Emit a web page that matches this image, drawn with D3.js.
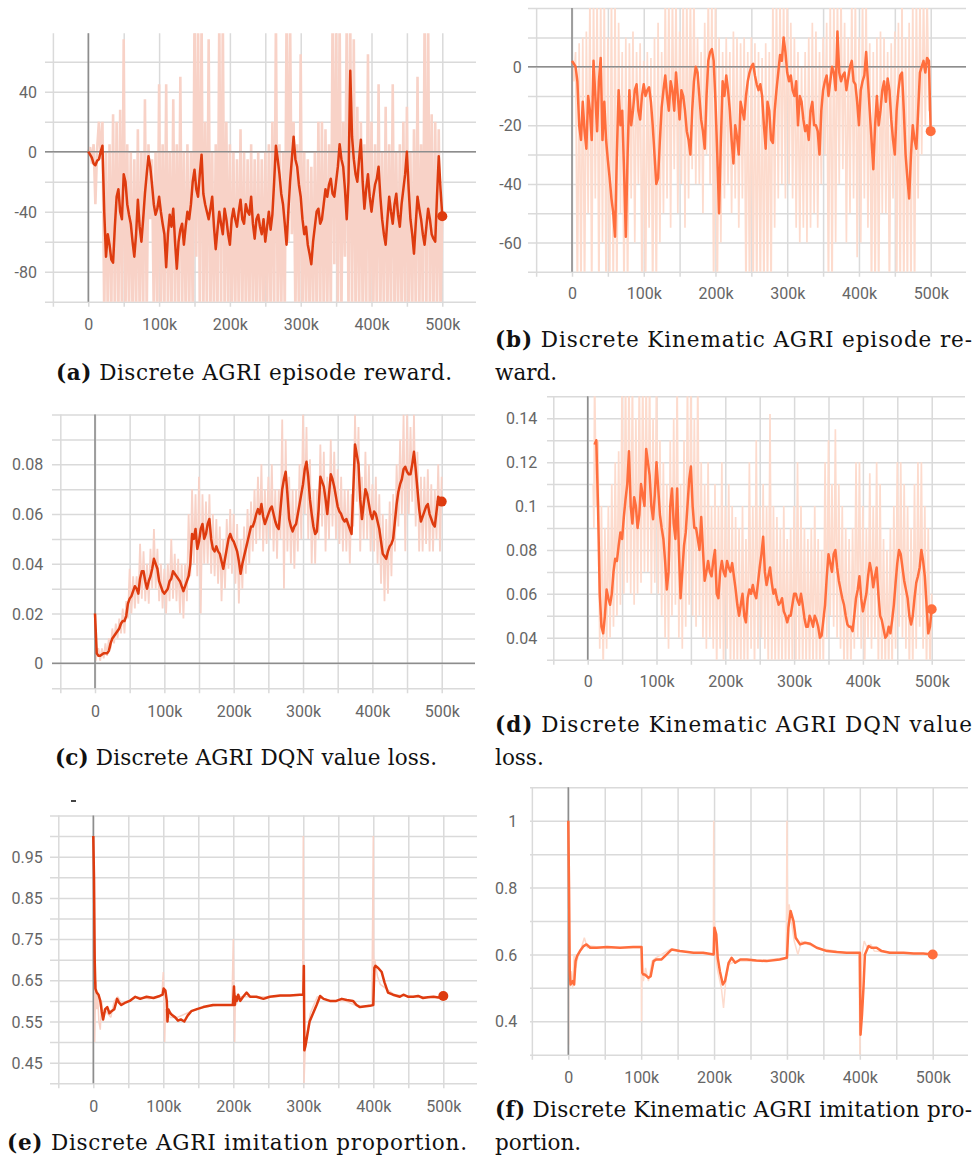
<!DOCTYPE html>
<html><head><meta charset="utf-8">
<script src="https://cdn.jsdelivr.net/npm/d3@7"></script>
<style>
html,body{margin:0;padding:0;background:#fff;}
svg{display:block;}
</style></head><body>
<svg id="chart" width="979" height="1167"></svg>
<script>
// ---------- shared tick values (x in thousands of steps) ----------
const xGridTicks = [-50,0,50,100,150,200,250,300,350,400,450,500];
const xLabelTicks = [0,100,200,300,400,500];

// ---------- (a) Discrete AGRI episode reward ----------
const aGridY = [-100,-80,-60,-40,-20,0,20,40,60];
const aYLabels = [40,0,-40,-80];
const aSmoothStart = 0;
const aSmooth = [0,-4,-9,-5,4,-70,-62,-74,-30,-40,-15,-35,-48,-70,-32,-60,-28,-3,-22,-42,
-30,-48,-77,-42,-38,-78,-52,-62,-40,-35,-12,-30,-2,-35,-45,-30,-65,-40,-55,-45,
-62,-38,-50,-32,-48,-40,-30,-58,-42,-55,-60,-40,-42,4,-15,-35,-62,-20,10,-10,
-30,-55,-62,-75,-50,-38,-45,-25,-22,-28,-20,5,-10,-45,54,-5,-20,8,-38,-15,
-40,-22,-10,-45,-62,-30,-48,-28,-50,-25,0,-45,-68,-30,-45,-62,-38,-55,-60,-3,-43];
const aSmoothMidStart = 2.5;
const aSmoothMid = [-2,-8,-6,0,-40,-55,-72,-50,-25,-45,-20,-42,-60,-55,-50,-45,-15,-10,-35,-38,
-40,-55,-55,-50,-60,-60,-48,-50,-45,-20,-25,-15,-28,-40,-38,-50,-52,-48,-38,-55,
-45,-45,-40,-45,-35,-42,-48,-45,-50,-45,-50,-52,-20,-5,-28,-48,-40,-5,-5,-22,
-45,-50,-68,-60,-40,-48,-35,-30,-18,-30,-10,-5,-25,-20,10,-15,-5,-20,-25,-30,
-30,-18,-30,-55,-45,-40,-35,-42,-35,-15,-25,-55,-48,-38,-55,-50,-45,-58,-30,-25];
const aRawStartX = [0,2.5,5,7.5,10,12.5,15,17.5];
const aRawStartY = [0,3,-8,5,-35,2,20,-5];
const aRawHiStart = 20;
const aRawHi = [20,0,5,25,20,28,75,5,0,-5,
15,0,35,5,-5,0,45,5,45,0,
35,5,50,0,5,0,90,90,90,20,
75,0,5,90,90,20,5,0,-5,15,
0,-5,5,-5,0,-5,0,5,20,90,
5,0,90,90,20,5,65,0,-5,-10,
0,20,20,15,5,90,90,90,20,90,
90,75,30,20,5,65,20,5,45,0,
30,5,45,0,5,20,30,0,15,50,
5,90,90,25,20,15,-40];
const aRawLoStart = 22.5;
const aRawLo = [-110,-110,-110,-110,-110,-110,-110,-110,-110,-110,
-110,-110,-110,-45,-110,-110,-110,-110,-110,-110,
-110,-110,-110,-110,-110,-110,-70,-110,-110,-110,
-110,-110,-110,-110,-110,-110,-110,-110,-110,-110,
-110,-110,-110,-110,-110,-110,-110,-110,-110,-110,
-110,-110,-60,-55,-110,-110,-110,-110,-110,-110,
-110,-110,-110,-110,-110,-75,-110,-110,-70,-110,
-110,-110,-110,-110,-110,-110,-110,-110,-110,-110,
-110,-110,-110,-110,-110,-110,-110,-110,-110,-110,
-110,-110,-110,-110,-110,-110];

// ---------- (b) Discrete Kinematic AGRI episode reward ----------
const bGridY = [-70,-60,-50,-40,-30,-20,-10,0,10,20];
const bYLabels = [0,-20,-40,-60];
const bSmoothStart = 0;
const bSmooth = [2,0,-20,-12,-28,-15,2,-22,3,-12,
-32,-45,-58,-8,-15,-58,-8,-15,-6,-18,
-6,-8,-12,-30,-38,-14,-3,-15,-8,-2,
-18,-10,-22,-30,-5,-2,-18,-28,2,6,
-12,-50,-5,-3,-15,-33,-24,-12,-18,-5,
0,-3,-8,-10,-28,-15,-26,-8,4,10,
-2,-3,-10,-20,-12,-22,-25,-12,-20,-30,
-8,-3,-5,-2,12,-5,-2,-4,2,-6,
-20,-5,5,-15,-35,-10,-15,-5,-4,-18,
-30,-8,-2,-30,-45,-20,-28,-2,2,3,
-22];
const bSmoothMidStart = 2.5;
const bSmoothMid = [1,-5,-25,-22,-10,-25,-10,-5,-25,-25,-38,-50,-30,-20,-35,-30,-20,-8,-15,-10,
-10,-7,-20,-40,-25,-8,-10,-5,-15,-10,-8,-15,-25,-15,0,-10,-22,-10,5,2,
-30,-25,-10,-8,-25,-20,-30,-15,-10,-2,1,-6,-6,-20,-12,-25,-15,-2,2,5,
-5,-8,-5,-10,-18,-20,-15,-20,-22,-15,-5,-10,0,-8,-2,-3,-8,0,-5,-12,
-8,-3,-5,-25,-20,-20,-8,-12,-8,-25,-15,-3,-15,-38,-30,-25,-15,0,-2,2];
const bRawStartX = [0,2.5];
const bRawStartY = [2,-5];
const bRawHiStart = 5;
const bRawHi = [5,8,10,12,25,25,25,25,25,10,
25,25,15,5,10,8,12,5,8,2,
5,3,10,15,5,25,25,25,25,12,
25,25,25,25,10,5,15,25,25,25,
10,5,10,5,12,10,8,10,5,10,
8,5,3,8,5,25,25,25,25,25,
15,10,5,0,5,10,15,12,5,10,
15,25,25,25,25,15,10,25,25,10,
25,25,8,5,10,12,10,5,8,12,
15,25,10,15,25,25,25,25,25,-15];
const bRawLoStart = 7.5;
const bRawLo = [-80,-80,-80,-50,-80,-45,-80,-60,-80,-80,
-80,-80,-50,-80,-80,-45,-60,-40,-80,-80,
-55,-80,-80,-60,-50,-45,-55,-35,-50,-40,
-55,-45,-35,-40,-40,-50,-30,-40,-80,-80,
-60,-45,-40,-50,-45,-55,-45,-80,-80,-80,
-80,-80,-80,-80,-80,-55,-45,-40,-45,-40,
-45,-55,-60,-55,-60,-55,-50,-55,-40,-30,
-80,-80,-60,-40,-35,-60,-50,-45,-65,-60,
-45,-55,-80,-80,-80,-50,-50,-80,-45,-80,
-80,-80,-80,-80,-80,-45,-30,-20,-15];

// ---------- (c) Discrete AGRI DQN value loss ----------
const cGridY = [-0.01,0,0.01,0.02,0.03,0.04,0.05,0.06,0.07,0.08,0.09,0.1];
const cYLabels = [0.08,0.06,0.04,0.02,0];
const cSmoothStart = 0;
const cSmooth = [0.02,0.003,0.0035,0.004,0.005,0.01,0.012,0.014,0.017,0.019,
0.026,0.029,0.03,0.034,0.037,0.03,0.035,0.042,0.038,0.031,
0.028,0.03,0.034,0.036,0.034,0.031,0.031,0.035,0.052,0.054,
0.049,0.056,0.052,0.058,0.046,0.047,0.044,0.038,0.046,0.052,
0.049,0.045,0.036,0.043,0.049,0.055,0.057,0.062,0.064,0.056,
0.06,0.063,0.057,0.054,0.07,0.077,0.058,0.053,0.056,0.064,
0.072,0.081,0.066,0.055,0.053,0.075,0.071,0.06,0.076,0.071,
0.063,0.06,0.057,0.056,0.052,0.088,0.08,0.058,0.07,0.064,
0.058,0.06,0.054,0.044,0.042,0.047,0.05,0.064,0.072,0.078,
0.077,0.076,0.085,0.07,0.057,0.061,0.064,0.058,0.055,0.067,
0.065];
const cSmoothMidStart = 2.5;
const cSmoothMid = [0.004,0.003,0.004,0.004,0.008,0.011,0.013,0.016,0.017,0.024,0.027,0.031,0.028,0.037,0.033,0.033,0.038,0.04,0.033,0.029,
0.029,0.033,0.037,0.035,0.033,0.029,0.033,0.04,0.05,0.046,0.054,0.05,0.056,0.05,0.045,0.045,0.041,0.042,0.05,0.05,
0.047,0.041,0.04,0.046,0.052,0.055,0.06,0.06,0.059,0.058,0.062,0.06,0.055,0.062,0.074,0.068,0.055,0.055,0.06,0.068,
0.078,0.075,0.06,0.052,0.062,0.073,0.066,0.068,0.074,0.067,0.061,0.058,0.058,0.054,0.07,0.084,0.066,0.064,0.068,0.06,
0.061,0.057,0.049,0.043,0.045,0.048,0.057,0.069,0.074,0.079,0.076,0.08,0.078,0.062,0.059,0.063,0.06,0.056,0.061,0.066];
const cRawStartX = [0,1,2.5];
const cRawStartY = [0.02,0.001,0.005];
const cRawHiStart = 5;
const cRawHi = [0.006,0.006,0.008,0.01,0.014,0.016,0.018,0.022,0.025,0.038,
0.035,0.035,0.048,0.045,0.04,0.046,0.054,0.046,0.04,0.038,
0.04,0.05,0.044,0.042,0.04,0.04,0.06,0.07,0.068,0.075,
0.068,0.065,0.068,0.06,0.058,0.055,0.05,0.058,0.062,0.06,
0.056,0.05,0.055,0.062,0.065,0.07,0.075,0.08,0.07,0.075,
0.08,0.07,0.07,0.098,0.09,0.075,0.07,0.07,0.08,0.1,
0.095,0.082,0.07,0.07,0.088,0.085,0.075,0.09,0.085,0.078,
0.075,0.07,0.07,0.068,0.1,0.095,0.075,0.085,0.08,0.072,
0.075,0.068,0.06,0.058,0.065,0.068,0.08,0.09,0.1,0.1,
0.095,0.1,0.085,0.075,0.075,0.078,0.072,0.07,0.08,0.075];
const cRawLoStart = 7.5;
const cRawLo = [0.001,0.002,0.003,0.006,0.008,0.01,0.012,0.012,0.018,0.02,
0.022,0.024,0.026,0.025,0.024,0.03,0.03,0.025,0.022,0.02,
0.025,0.026,0.025,0.02,0.018,0.025,0.035,0.04,0.035,0.02,
0.04,0.04,0.036,0.035,0.032,0.025,0.03,0.038,0.036,0.032,
0.024,0.03,0.036,0.04,0.045,0.048,0.05,0.045,0.048,0.05,
0.045,0.042,0.05,0.03,0.045,0.04,0.038,0.045,0.05,0.06,
0.05,0.04,0.04,0.05,0.055,0.045,0.05,0.055,0.05,0.048,
0.045,0.045,0.04,0.055,0.065,0.045,0.05,0.05,0.045,0.045,
0.04,0.032,0.025,0.028,0.035,0.045,0.055,0.06,0.045,0.06,
0.065,0.055,0.045,0.045,0.048,0.045,0.045,0.05,0.045];

// ---------- (d) Discrete Kinematic AGRI DQN value loss ----------
const dGridY = [0.03,0.04,0.05,0.06,0.07,0.08,0.09,0.1,0.11,0.12,0.13,0.14,0.15];
const dYLabels = [0.14,0.12,0.1,0.08,0.06,0.04];
const dSmoothStart = 10;
const dSmooth = [0.128,0.1,0.045,0.05,0.058,0.06,0.076,0.082,0.085,0.103,
0.125,0.092,0.1,0.096,0.105,0.126,0.114,0.094,0.12,0.096,
0.085,0.062,0.1,0.092,0.108,0.058,0.082,0.1,0.118,0.09,
0.085,0.095,0.066,0.075,0.068,0.08,0.058,0.075,0.068,0.072,
0.074,0.062,0.05,0.06,0.047,0.062,0.064,0.058,0.072,0.086,
0.064,0.072,0.06,0.058,0.056,0.052,0.047,0.05,0.06,0.057,
0.06,0.049,0.045,0.048,0.05,0.045,0.041,0.055,0.078,0.07,
0.08,0.066,0.058,0.05,0.045,0.043,0.058,0.068,0.052,0.06,
0.074,0.063,0.072,0.05,0.044,0.041,0.042,0.055,0.074,0.078,
0.066,0.058,0.046,0.058,0.068,0.08,0.068,0.042,0.053];
const dSmoothMidStart = 12.5;
const dSmoothMid = [0.13,0.06,0.042,0.062,0.055,0.07,0.075,0.088,0.095,0.11,
0.1,0.104,0.09,0.11,0.1,0.12,0.1,0.105,0.108,0.09,
0.075,0.07,0.108,0.085,0.08,0.07,0.088,0.112,0.1,0.09,
0.08,0.08,0.07,0.07,0.075,0.06,0.07,0.07,0.075,0.07,
0.068,0.055,0.055,0.05,0.058,0.06,0.06,0.065,0.078,0.07,
0.068,0.065,0.062,0.055,0.058,0.05,0.05,0.055,0.06,0.055,
0.055,0.045,0.05,0.045,0.048,0.04,0.048,0.068,0.074,0.078,
0.072,0.062,0.055,0.046,0.045,0.05,0.062,0.058,0.056,0.068,
0.07,0.068,0.06,0.048,0.04,0.045,0.048,0.065,0.08,0.072,
0.062,0.05,0.05,0.065,0.072,0.075,0.055,0.045];
const dRawStartX = [8,9];
const dRawStartY = [0.11,0.09];
const dRawHiStart = 10;
const dRawHi = [0.16,0.13,0.1,0.09,0.1,0.11,0.12,0.125,0.16,0.16,
0.16,0.16,0.14,0.16,0.16,0.16,0.16,0.14,0.16,0.13,
0.12,0.11,0.13,0.14,0.16,0.11,0.13,0.16,0.16,0.14,
0.16,0.12,0.11,0.12,0.1,0.11,0.1,0.12,0.1,0.11,
0.1,0.095,0.09,0.1,0.085,0.12,0.1,0.13,0.1,0.11,
0.1,0.142,0.1,0.095,0.09,0.1,0.085,0.09,0.1,0.12,
0.1,0.09,0.085,0.09,0.1,0.085,0.08,0.12,0.13,0.11,
0.135,0.11,0.1,0.09,0.085,0.09,0.12,0.12,0.1,0.09,
0.115,0.1,0.12,0.11,0.085,0.08,0.09,0.1,0.12,0.12,
0.11,0.1,0.09,0.11,0.12,0.12,0.1,0.09,0.06];
const dRawLoStart = 12.5;
const dRawLo = [0.1,0.035,0.025,0.035,0.04,0.045,0.05,0.055,0.06,0.065,
0.06,0.055,0.06,0.065,0.07,0.07,0.06,0.065,0.06,0.05,
0.04,0.035,0.05,0.055,0.04,0.035,0.045,0.055,0.05,0.045,
0.05,0.04,0.035,0.04,0.035,0.025,0.035,0.025,0.035,0.025,
0.025,0.025,0.025,0.025,0.025,0.035,0.025,0.035,0.04,0.035,
0.025,0.025,0.025,0.025,0.025,0.025,0.025,0.025,0.025,0.025,
0.025,0.025,0.025,0.025,0.025,0.025,0.025,0.04,0.05,0.045,
0.04,0.035,0.025,0.025,0.025,0.035,0.04,0.035,0.025,0.04,
0.035,0.04,0.025,0.025,0.025,0.025,0.025,0.035,0.045,0.04,
0.035,0.025,0.025,0.035,0.045,0.035,0.025,0.025];

// ---------- (e) Discrete AGRI imitation proportion ----------
const eGridY = [0.4,0.45,0.5,0.55,0.6,0.65,0.7,0.75,0.8,0.85,0.9,0.95,1,1.05];
const eYLabels = [0.95,0.85,0.75,0.65,0.55,0.45];
const eX = [0,1,2,3,5,7.5,10,12,14,17,20,23,26,30,34,37,40,45,52,60,67,76,86,95,99,100.5,103,105,106,107,110,113,117,121,125,130,135,140,148,157,171,186,199.5,201,202,203.5,205,207,210,214,219,224,233,243,252,267,281,295,300,300.8,301.5,303,305,309,314,319,324,329,338,347,355,362,371,376,381,395,400,401.5,403,407,412,416,421,428,438,443,450,457,464,471,478,486,493,500];
const eY = [1.0,0.9,0.7,0.63,0.62,0.615,0.6,0.575,0.555,0.58,0.585,0.57,0.575,0.58,0.605,0.595,0.59,0.595,0.6,0.61,0.605,0.61,0.607,0.612,0.615,0.63,0.625,0.6,0.55,0.58,0.57,0.565,0.56,0.552,0.555,0.55,0.565,0.575,0.58,0.585,0.59,0.59,0.59,0.635,0.59,0.61,0.6,0.615,0.6,0.61,0.62,0.61,0.61,0.605,0.61,0.613,0.613,0.615,0.615,0.685,0.48,0.49,0.51,0.55,0.57,0.59,0.612,0.605,0.6,0.6,0.605,0.602,0.6,0.59,0.585,0.588,0.59,0.68,0.685,0.68,0.67,0.645,0.62,0.615,0.61,0.615,0.61,0.61,0.612,0.607,0.609,0.61,0.608,0.612];
const eRawX = [0,0.5,1,2,3,4,5,6,8,10,12,14,16,20,25,30,35,40,50,60,80,98,100,101,102,103,104,106,110,120,140,160,180,198,200,201,202,203,204,206,210,230,260,290,299,300,300.5,301,302,303,305,310,320,340,360,380,398,400,400.5,401,402,404,406,410,430,460,500];
const eRawY = [1,0.9,0.7,0.5,0.6,0.65,0.58,0.62,0.55,0.53,0.6,0.56,0.58,0.57,0.56,0.6,0.61,0.595,0.6,0.61,0.605,0.615,0.67,0.6,0.5,0.58,0.55,0.57,0.56,0.56,0.575,0.585,0.59,0.59,0.75,0.6,0.5,0.62,0.59,0.6,0.61,0.61,0.61,0.615,0.615,1.0,0.7,0.4,0.45,0.5,0.52,0.57,0.61,0.6,0.6,0.585,0.59,1.0,0.72,0.65,0.7,0.68,0.66,0.64,0.615,0.61,0.61];

// ---------- (f) Discrete Kinematic AGRI imitation proportion ----------
const fGridY = [0.3,0.4,0.5,0.6,0.7,0.8,0.9,1,1.1];
const fYLabels = [1,0.8,0.6,0.4];
const fX = [0,1,2,3,6,8,10,12,16,21,25,30,39,53,71,89,100.5,101.5,103,105,110,113,117,121,128,135,142,153,172,185,199.5,200.5,203,205,208,212,215,220,224,229,236,245,258,272,290,300,302,305,309,312,318,325,332,341,355,368,382,400,401,403,405,407,412,416,423,430,441,460,474,487,500];
const fY = [1.0,0.8,0.55,0.51,0.52,0.51,0.58,0.595,0.61,0.625,0.63,0.62,0.62,0.622,0.62,0.622,0.622,0.545,0.54,0.54,0.53,0.535,0.58,0.585,0.585,0.6,0.615,0.61,0.605,0.605,0.6,0.68,0.66,0.59,0.55,0.51,0.52,0.575,0.59,0.575,0.585,0.585,0.582,0.58,0.585,0.59,0.68,0.73,0.7,0.65,0.63,0.635,0.632,0.62,0.61,0.607,0.605,0.605,0.36,0.42,0.5,0.6,0.625,0.62,0.62,0.61,0.605,0.605,0.603,0.603,0.6];
const fRawX = [0,0.5,1,2,4,6,8,10,14,18,22,26,30,50,80,99,100,100.5,101,103,106,110,115,120,140,170,199,199.5,200,200.5,202,205,210,213,216,220,230,260,299,300,301,303,306,310,315,320,340,380,399,400,401,403,406,410,415,420,450,500];
const fRawY = [1.0,0.33,0.7,0.5,0.55,0.5,0.6,0.56,0.6,0.62,0.65,0.62,0.625,0.62,0.62,0.62,0.62,0.4,0.55,0.52,0.56,0.52,0.58,0.59,0.615,0.605,0.6,1.0,0.66,0.7,0.6,0.55,0.5,0.44,0.52,0.57,0.58,0.58,0.59,1.0,0.7,0.75,0.7,0.64,0.6,0.64,0.62,0.605,0.6,0.3,0.42,0.6,0.64,0.62,0.63,0.61,0.605,0.6];

// ---------- captions ----------
const captionLabels = ['(a)','(b)','','(c)','(d)','','(e)','(f)',''];
const captionTexts = [' Discrete AGRI episode reward.',' Discrete Kinematic AGRI episode re-','ward.',
 ' Discrete AGRI DQN value loss.',' Discrete Kinematic AGRI DQN value','loss.',
 ' Discrete AGRI imitation proportion.',' Discrete Kinematic AGRI imitation pro-','portion.'];

// ---------- helpers ----------
const stepSeries = (start, step, vals) => vals.map((v,i)=>({x:start+i*step, y:v}));
const pairSeries = (xs, ys) => xs.map((x,i)=>({x, y:ys[i]}));
const mergeRaw = (...parts) => parts.flat().sort((a,b)=>a.x-b.x);

const DARK = {line:'#de3b0f', raw:'#f8d2c7'};
const LIGHT = {line:'#ff6e3d', raw:'#fddbcd'};

const svg = d3.select('#chart');

// layout (positions / styles only)
const layouts = [
 {x0:88.3,x500:442.3,left:45,right:476,yr:[[0,151.7],[40,91.7]],top:79,bot:-100,grid:aGridY,labels:aYLabels,labelX:37,xLabelY:324,zeroH:true,col:DARK,rawW:2.6,
  smooth:mergeRaw(stepSeries(aSmoothStart,5,aSmooth),stepSeries(aSmoothMidStart,5,aSmoothMid)),
  raw:mergeRaw(pairSeries(aRawStartX,aRawStartY),stepSeries(aRawHiStart,5,aRawHi),stepSeries(aRawLoStart,5,aRawLo))},
 {x0:572,x500:930.7,left:528,right:966,yr:[[0,66.7],[-20,125.3]],top:20,bot:-70,grid:bGridY,labels:bYLabels,labelX:521.7,xLabelY:293.3,zeroH:true,col:LIGHT,rawW:1.7,
  smooth:mergeRaw(stepSeries(bSmoothStart,5,bSmooth),stepSeries(bSmoothMidStart,5,bSmoothMid)),
  raw:mergeRaw(pairSeries(bRawStartX,bRawStartY),stepSeries(bRawHiStart,5,bRawHi),stepSeries(bRawLoStart,5,bRawLo))},
 {x0:95,x500:441.7,left:52,right:475,yr:[[0,663.3],[0.08,464.3]],top:0.1,bot:-0.01,grid:cGridY,labels:cYLabels,labelX:43.3,xLabelY:711.7,zeroH:true,col:DARK,rawW:1.8,
  smooth:mergeRaw(stepSeries(cSmoothStart,5,cSmooth),stepSeries(cSmoothMidStart,5,cSmoothMid)),
  raw:mergeRaw(pairSeries(cRawStartX,cRawStartY),stepSeries(cRawHiStart,5,cRawHi),stepSeries(cRawLoStart,5,cRawLo))},
 {x0:587.7,x500:931.7,left:547,right:965,yr:[[0.14,418.3],[0.04,637.7]],top:0.15,bot:0.03,grid:dGridY,labels:dYLabels,labelX:537.3,xLabelY:681.7,zeroH:false,col:LIGHT,rawW:1.7,
  smooth:mergeRaw(stepSeries(dSmoothStart,5,dSmooth),stepSeries(dSmoothMidStart,5,dSmoothMid)),
  raw:mergeRaw(pairSeries(dRawStartX,dRawStartY),stepSeries(dRawHiStart,5,dRawHi),stepSeries(dRawLoStart,5,dRawLo))},
 {x0:93.3,x500:443.3,left:50,right:477,yr:[[0.95,856.7],[0.45,1062.7]],top:1.05,bot:0.4,grid:eGridY,labels:eYLabels,labelX:42.7,xLabelY:1106,zeroH:false,col:DARK,rawW:1.5,
  smooth:pairSeries(eX,eY), raw:pairSeries(eRawX,eRawY)},
 {x0:568.3,x500:932.7,left:530,right:968,yr:[[1,820.7],[0.4,1021.3]],top:1.1,bot:0.3,grid:fGridY,labels:fYLabels,labelX:517.3,xLabelY:1077.7,zeroH:false,col:LIGHT,rawW:1.5,
  smooth:pairSeries(fX,fY), raw:pairSeries(fRawX,fRawY)}
];

const fmtY = d => String(+d.toFixed(4));
const fmtX = d => d === 0 ? '0' : d + 'k';
const styleLabels = s => {
  s.attr('font-family', 'Roboto, sans-serif').attr('font-size', 16);
  s.select('.domain').remove();
};

layouts.forEach((L, idx) => {
  const x = d3.scaleLinear().domain([0,500]).range([L.x0, L.x500]);
  const y = d3.scaleLinear().domain([L.yr[0][0], L.yr[1][0]]).range([L.yr[0][1], L.yr[1][1]]);
  const top = y(L.top), bot = y(L.bot);
  const g = svg.append('g');

  // horizontal grid
  g.append('g').attr('transform', `translate(${L.left},0)`)
    .call(d3.axisLeft(y).tickValues(L.grid).tickSize(-(L.right - L.left)).tickFormat(''))
    .call(s => s.select('.domain').remove())
    .call(s => s.selectAll('line').attr('stroke', '#dadada').attr('stroke-width', 1.5));
  // vertical grid (with small tick below)
  g.append('g').attr('transform', `translate(0,${bot + 5})`)
    .call(d3.axisBottom(x).tickValues(xGridTicks).tickSize(-(bot + 5 - top)).tickFormat(''))
    .call(s => s.select('.domain').remove())
    .call(s => s.selectAll('line').attr('stroke', '#dadada').attr('stroke-width', 1.5));

  const clipId = 'clip' + idx;
  g.append('clipPath').attr('id', clipId).append('rect')
    .attr('x', L.left).attr('y', top).attr('width', L.right - L.left).attr('height', bot - top);

  const line = d3.line().x(d => x(d.x)).y(d => y(d.y));
  // raw
  g.append('path').datum(L.raw).attr('clip-path', `url(#${clipId})`)
    .attr('d', line).attr('fill', 'none').attr('stroke', L.col.raw)
    .attr('stroke-width', L.rawW).attr('stroke-linejoin', 'bevel');

  // zero axes
  g.append('line').attr('x1', x(0)).attr('x2', x(0)).attr('y1', top).attr('y2', bot)
    .attr('stroke', '#8d8d8d').attr('stroke-width', 1.6);
  if (L.zeroH) {
    g.append('line').attr('x1', L.left).attr('x2', L.right).attr('y1', y(0)).attr('y2', y(0))
      .attr('stroke', '#8d8d8d').attr('stroke-width', 1.6);
  }

  // smoothed
  g.append('path').datum(L.smooth).attr('clip-path', `url(#${clipId})`)
    .attr('d', line).attr('fill', 'none').attr('stroke', L.col.line)
    .attr('stroke-width', 2.5).attr('stroke-linejoin', 'round');
  const last = L.smooth[L.smooth.length - 1];
  g.append('circle').attr('cx', x(last.x)).attr('cy', y(last.y)).attr('r', 5).attr('fill', L.col.line);

  // y labels
  g.append('g').attr('transform', `translate(${L.labelX},0)`)
    .call(d3.axisLeft(y).tickValues(L.labels).tickSize(0).tickPadding(0).tickFormat(fmtY))
    .call(styleLabels)
    .call(s => s.selectAll('text').attr('x', 0).attr('dy', '0.35em').attr('fill', '#666'));
  // x labels
  g.append('g').attr('transform', `translate(0,${L.xLabelY})`)
    .call(d3.axisBottom(x).tickValues(xLabelTicks).tickSize(0).tickPadding(0).tickFormat(fmtX))
    .call(styleLabels)
    .call(s => s.selectAll('text').attr('y', 0).attr('dy', '0.35em').attr('fill', '#666'));
});

// stray mark above panel (e)
svg.append('line').attr('x1', 71).attr('x2', 76).attr('y1', 801).attr('y2', 801)
  .attr('stroke', '#444').attr('stroke-width', 2);

// captions
const capPos = [
 {x:56, y:380, len:396},
 {x:495, y:347, len:477},
 {x:495, y:380},
 {x:55, y:765, len:382},
 {x:495, y:732, len:477},
 {x:495, y:765},
 {x:7, y:1150, len:460},
 {x:495, y:1117, len:477},
 {x:495, y:1150}
];
capPos.forEach((p, i) => {
  const t = svg.append('text').attr('x', p.x).attr('y', p.y)
    .attr('font-family', 'DejaVu Serif, serif').attr('font-size', 21.5).attr('fill', '#111')
    .style('white-space', 'pre');
  if (p.len) t.attr('textLength', p.len).attr('lengthAdjust', 'spacing');
  if (captionLabels[i]) t.append('tspan').attr('font-weight', 'bold').text(captionLabels[i]);
  t.append('tspan').text(captionTexts[i]);
});
</script>
</body></html>
